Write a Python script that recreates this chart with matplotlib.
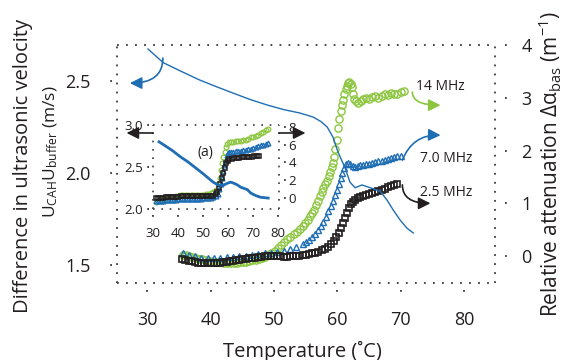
import matplotlib
matplotlib.use("Agg")
import matplotlib.pyplot as plt

plt.rcParams['font.family'] = ['Open Sans', 'DejaVu Sans']
plt.rcParams['mathtext.fontset'] = 'custom'
plt.rcParams['mathtext.rm'] = 'Open Sans'
plt.rcParams['mathtext.it'] = 'Open Sans:italic'

GREEN = '#8cc63f'
BLUE = '#1f6eb4'
BLACK = '#231f20'

# ---- main panel: attenuation (right axis) ----
t_14 = [35.6, 36.1, 36.6, 37.1, 37.6, 38.1, 38.6, 39.1, 39.6, 40.1, 40.6, 41.1, 41.6, 42.1,
        42.6, 43.1, 43.6, 44.1, 44.6, 45.1, 45.6, 46.1, 46.6, 47.1, 47.6, 48.1, 48.6, 49.1,
        49.6, 50.1, 50.6, 51.1, 51.6, 52.1, 52.6, 53.1, 53.6, 54.1, 54.5, 54.9, 55.3, 55.7,
        56.0, 56.3, 56.6, 56.9, 57.2, 57.5, 57.8, 58.1, 58.4, 58.7, 58.9, 59.1, 59.3, 59.5,
        59.7, 59.9, 60.1, 60.3, 60.5, 60.7, 60.9, 61.1, 61.3, 61.5, 61.7, 61.9, 62.1, 62.3,
        62.5, 62.7, 63.0, 63.3, 63.7, 64.1, 64.5, 65.0, 65.5, 66.0, 66.5, 67.0, 67.5, 68.0,
        68.5, 69.0, 69.5, 70.0, 70.5]
a_14 = [0.03, 0.02, 0.00, -0.02, -0.03, -0.05, -0.06, -0.07, -0.09, -0.10, -0.11, -0.12, -0.12, -0.13,
        -0.13, -0.14, -0.13, -0.13, -0.12, -0.12, -0.11, -0.10, -0.08, -0.07, -0.05, -0.03, -0.01, 0.02,
        0.06, 0.10, 0.15, 0.21, 0.27, 0.32, 0.37, 0.41, 0.46, 0.52, 0.57, 0.63, 0.69, 0.76,
        0.82, 0.88, 0.96, 1.05, 1.14, 1.22, 1.29, 1.36, 1.43, 1.52, 1.60, 1.68, 1.77, 1.88,
        2.02, 2.20, 2.42, 2.60, 2.74, 2.86, 2.96, 3.07, 3.16, 3.23, 3.28, 3.29, 3.27, 3.20,
        3.08, 2.98, 2.93, 2.91, 2.93, 2.97, 3.00, 2.98, 3.01, 3.03, 3.00, 3.04, 3.07, 3.05,
        3.09, 3.07, 3.08, 3.10, 3.12]

t_7 = [35.6, 36.5, 37.5, 38.5, 39.5, 40.5, 41.5, 42.5, 43.5, 44.5, 45.5, 46.5, 47.5, 48.5,
       49.5, 50.5, 51.5, 52.5, 53.5, 54.5, 55.0, 55.5, 56.0, 56.5, 57.0, 57.4, 57.8, 58.2,
       58.6, 59.0, 59.3, 59.6, 59.9, 60.2, 60.5, 60.8, 61.1, 61.4, 61.7, 62.0, 62.4, 62.8,
       63.2, 63.6, 64.0, 64.5, 65.0, 65.5, 66.0, 66.5, 67.0, 67.5, 68.0, 68.5, 69.0, 69.5, 70.0]
a_7 = [0.05, 0.02, 0.00, -0.03, -0.04, -0.04, -0.03, -0.02, -0.01, 0.00, 0.01, 0.03, 0.04, 0.05,
       0.06, 0.08, 0.10, 0.13, 0.17, 0.22, 0.26, 0.30, 0.36, 0.42, 0.50, 0.57, 0.65, 0.75,
       0.85, 0.95, 1.05, 1.15, 1.26, 1.37, 1.48, 1.58, 1.67, 1.74, 1.77, 1.74, 1.70, 1.69,
       1.70, 1.72, 1.73, 1.74, 1.75, 1.77, 1.79, 1.80, 1.81, 1.83, 1.84, 1.86, 1.87, 1.89, 1.90]

t_25 = [35.5, 36.0, 36.5, 37.0, 37.5, 38.0, 38.5, 39.0, 39.5, 40.0, 40.5, 41.0, 41.5, 42.0,
        42.5, 43.0, 43.5, 44.0, 44.5, 45.0, 45.5, 46.0, 46.5, 47.0, 47.5, 48.0, 48.5, 49.0,
        49.5, 50.0, 50.5, 51.0, 51.5, 52.0, 52.5, 53.0, 53.5, 54.0, 54.5, 55.0, 55.5, 56.0,
        56.5, 57.0, 57.5, 58.0, 58.5, 59.0, 59.4, 59.8, 60.2, 60.6, 60.9, 61.2, 61.5, 61.8,
        62.1, 62.4, 62.8, 63.2, 63.6, 64.0, 64.5, 65.0, 65.5, 66.0, 66.5, 67.0, 67.5, 68.0,
        68.5, 69.0, 69.4]
a_25 = [-0.05, -0.07, -0.09, -0.10, -0.12, -0.13, -0.13, -0.14, -0.14, -0.14, -0.14, -0.13, -0.13, -0.12,
        -0.11, -0.10, -0.09, -0.08, -0.07, -0.06, -0.05, -0.04, -0.03, -0.03, -0.02, -0.01, 0.00, 0.00,
        0.01, 0.01, 0.00, 0.00, -0.01, -0.01, 0.00, 0.00, 0.01, 0.01, 0.02, 0.03, 0.04, 0.05,
        0.06, 0.08, 0.11, 0.14, 0.18, 0.23, 0.29, 0.36, 0.44, 0.53, 0.62, 0.72, 0.82, 0.91,
        0.98, 1.03, 1.07, 1.10, 1.12, 1.14, 1.16, 1.18, 1.20, 1.22, 1.24, 1.26, 1.28, 1.30,
        1.32, 1.35, 1.37]

# ---- main panel: velocity difference (left axis) ----
t_vel = [30.1, 32.5, 35.5, 38.3, 41.0, 43.5, 46.2, 48.9, 51.5, 54.1, 56.2, 57.4, 58.4, 59.3,
         60.1, 61.2, 62.0, 62.8, 63.9, 65.2, 66.8, 67.9, 68.8, 69.9, 71.0, 72.0]
v_vel = [2.674, 2.600, 2.550, 2.505, 2.468, 2.435, 2.400, 2.370, 2.345, 2.326, 2.304, 2.280, 2.250, 2.196,
         2.114, 2.030, 1.950, 1.920, 1.935, 1.920, 1.900, 1.850, 1.800, 1.745, 1.700, 1.674]

# ---- inset (a) ----
ti_14 = [31, 32, 33, 34, 35, 36, 37, 38, 39, 40, 41, 42, 43, 44, 45, 46, 47, 48, 49, 50, 51, 52,
         53, 54, 55, 56, 56.6, 57.1, 57.6, 58.1, 58.6, 59.1, 59.7, 60.4, 61.2, 62, 63, 64, 65,
         66, 67, 68, 69, 70, 71, 72, 73, 74, 75, 76]
ai_14 = [-0.4, -0.3, -0.2, -0.1, 0.0, 0.05, 0.1, 0.15, 0.2, 0.25, 0.3, 0.35, 0.35, 0.35, 0.3, 0.3,
         0.3, 0.3, 0.3, 0.35, 0.4, 0.5, 0.6, 0.7, 0.9, 1.6, 2.3, 3.1, 3.9, 4.6, 5.2, 5.7, 6.1,
         6.25, 6.3, 6.3, 6.35, 6.4, 6.45, 6.5, 6.55, 6.65, 6.8, 6.9, 7.0, 7.1, 7.25, 7.4, 7.6, 7.75]

ti_7 = [31, 32, 33, 34, 35, 36, 37, 38, 39, 40, 41, 42, 43, 44, 45, 46, 47, 48, 49, 50, 51, 52,
        53, 54, 55, 56, 56.5, 57, 57.5, 58, 58.5, 59, 59.5, 60, 60.5, 61, 62, 63, 64, 65, 66,
        67, 68, 69, 70, 71, 72, 73, 74, 75, 76]
ai_7 = [-0.3, -0.3, -0.3, -0.3, -0.25, -0.25, -0.2, -0.2, -0.2, -0.15, -0.15, -0.15, -0.1, -0.1,
        -0.1, -0.1, -0.1, -0.1, -0.1, -0.05, -0.05, 0.0, 0.0, 0.1, 0.2, 0.5, 1.0, 1.6, 2.3, 3.0,
        3.7, 4.3, 4.8, 5.1, 5.2, 5.2, 5.2, 5.25, 5.3, 5.3, 5.35, 5.4, 5.45, 5.5, 5.6, 5.7, 5.8,
        5.9, 6.0, 6.1, 6.2]

ti_25 = [31, 32, 33, 34, 35, 36, 37, 38, 39, 40, 41, 42, 43, 44, 45, 46, 47, 48, 49, 50, 51, 52,
         53, 54, 55, 55.6, 56.2, 56.8, 57.4, 58, 58.6, 59.2, 59.8, 60.5, 61.5, 62.5, 63.5, 64.5,
         65.5, 66.5, 67.5, 68.5, 69.5, 70.5, 71.5, 72.5]
ai_25 = [0.0, 0.0, 0.05, 0.05, 0.1, 0.1, 0.1, 0.15, 0.15, 0.15, 0.2, 0.2, 0.2, 0.2, 0.2, 0.2,
         0.2, 0.2, 0.2, 0.2, 0.2, 0.2, 0.2, 0.25, 0.4, 0.7, 1.1, 1.6, 2.2, 2.8, 3.4, 3.9, 4.2,
         4.35, 4.4, 4.45, 4.5, 4.5, 4.55, 4.6, 4.6, 4.65, 4.65, 4.7, 4.7, 4.75]

ti_vel = [32.4, 35, 38, 41, 44, 47, 50, 52, 54, 55.8, 57, 58.5, 60, 61, 62, 63.5, 65, 67.7,
          69, 71, 72.9, 76]
vi_vel = [2.80, 2.75, 2.69, 2.62, 2.56, 2.49, 2.42, 2.37, 2.32, 2.29, 2.28, 2.29, 2.31, 2.32,
          2.31, 2.29, 2.26, 2.23, 2.19, 2.16, 2.14, 2.13]

x_ticks = [30, 40, 50, 60, 70, 80]
vel_ticks = [1.5, 2.0, 2.5]
att_ticks = [0, 1, 2, 3, 4]
xi_ticks = [30, 40, 50, 60, 70, 80]
veli_ticks = [2.0, 2.5, 3.0]
atti_ticks = [0, 2, 4, 6, 8]

DOTS = (0, (1, 4))
FRAME = '#3a3a3a'


def dotted_frame(a, lw=1.3):
    for s in a.spines.values():
        s.set_linestyle(DOTS)
        s.set_linewidth(lw)
        s.set_color(FRAME)
        s.set_capstyle('butt')


def dotted_ticks(a, ticks, side, lo, hi):
    for t in ticks:
        if side == 'bottom':
            a.plot([t, t], [lo, hi], transform=a.get_xaxis_transform(), ls=DOTS,
                   lw=1.3, color=FRAME, clip_on=False, solid_capstyle='butt')
        else:
            a.plot([lo, hi], [t, t], transform=a.get_yaxis_transform(), ls=DOTS,
                   lw=1.3, color=FRAME, clip_on=False)


fig = plt.figure(figsize=(5.67, 3.6), dpi=100)

ax = fig.add_axes([117 / 567, 1 - 283 / 360, 378 / 567, 238 / 360])
ax2 = ax.twinx()

ax.plot(t_14, a_14, 'o', ms=5.2, mfc='none', mec=GREEN, mew=1.0)
ax.plot(t_7, a_7, '^', ms=5.0, mfc='none', mec=BLUE, mew=1.0)
ax.plot(t_25, a_25, 's', ms=4.6, mfc='none', mec=BLACK, mew=1.2)
ax.set_xlim(25.2, 84.9)
ax.set_ylim(-0.51, 4.0)
ax.yaxis.tick_right()

ax2.plot(t_vel, v_vel, color=BLUE, lw=1.0)
ax2.set_ylim(1.402, 2.696)
ax2.yaxis.tick_left()
for s in ax2.spines.values():
    s.set_visible(False)

dotted_frame(ax)
ax.set_xticks(x_ticks)
ax.set_yticks(att_ticks)
ax2.set_yticks(vel_ticks)
ax2.set_yticklabels([f'{v:.1f}' for v in vel_ticks])
ax.tick_params(axis='x', length=0, pad=20, labelsize=13, colors=BLACK)
ax.tick_params(axis='y', length=0, pad=19, labelsize=13, colors=BLACK)
ax2.tick_params(axis='y', length=0, pad=19, labelsize=13, colors=BLACK)
dotted_ticks(ax, x_ticks, 'bottom', -0.028, -0.062)
dotted_ticks(ax, att_ticks, 'right', 1.026, 1.05)
dotted_ticks(ax2, vel_ticks, 'left', -0.014, -0.038)

# arrows and frequency labels
arr = '-|>,head_length=0.6,head_width=0.3'
ax2.annotate('', xy=(27.23, 2.489), xytext=(32.45, 2.625),
             arrowprops=dict(arrowstyle=arr, color=BLUE, lw=1.2, mutation_scale=12,
                             connectionstyle='angle3,angleA=90,angleB=0', shrinkA=0, shrinkB=0))
ax.annotate('', xy=(76.3, 2.86), xytext=(71.85, 3.11),
            arrowprops=dict(arrowstyle=arr, color=GREEN, lw=1.2, mutation_scale=12,
                            connectionstyle='angle3,angleA=90,angleB=0', shrinkA=0, shrinkB=0))
ax.annotate('', xy=(76.3, 2.29), xytext=(70.27, 1.82),
            arrowprops=dict(arrowstyle=arr, color=BLUE, lw=1.2, mutation_scale=12,
                            connectionstyle='arc3,rad=-0.35', shrinkA=0, shrinkB=0))
ax.annotate('', xy=(74.7, 1.0), xytext=(70.27, 1.35),
            arrowprops=dict(arrowstyle=arr, color=BLACK, lw=1.2, mutation_scale=12,
                            connectionstyle='angle3,angleA=90,angleB=0', shrinkA=0, shrinkB=0))
ax.text(76.3, 3.21, '14 MHz', fontsize=10, color=BLACK, ha='center', va='center')
ax.text(77.2, 1.84, '7.0 MHz', fontsize=10, color=BLACK, ha='center', va='center')
ax.text(77.2, 1.21, '2.5 MHz', fontsize=10, color=BLACK, ha='center', va='center')

# inset
axi = fig.add_axes([153 / 567, 1 - 209 / 360, 126 / 567, 84 / 360])
axi.set_facecolor('white')
axi2 = axi.twinx()
axi.plot(ti_14, ai_14, 'o', ms=3.4, mfc='none', mec=GREEN, mew=0.9)
axi.plot(ti_7, ai_7, '^', ms=3.4, mfc='none', mec=BLUE, mew=1.0)
axi.plot(ti_25, ai_25, 's', ms=3.4, mfc='none', mec=BLACK, mew=1.1)
axi.set_xlim(30.3, 80.3)
axi.set_ylim(-1.24, 8.2)
axi.yaxis.tick_right()
axi2.plot(ti_vel, vi_vel, color=BLUE, lw=2.0)
axi2.set_ylim(2.0, 3.0)
axi2.yaxis.tick_left()
for s in axi2.spines.values():
    s.set_visible(False)
dotted_frame(axi, lw=1.2)
axi.set_xticks(xi_ticks)
axi.set_yticks(atti_ticks)
axi2.set_yticks(veli_ticks)
axi2.set_yticklabels([f'{v:.1f}' for v in veli_ticks])
axi.tick_params(axis='x', length=0, pad=13, labelsize=9.5, colors=BLACK)
axi.tick_params(axis='y', length=0, pad=7, labelsize=9.5, colors=BLACK)
axi2.tick_params(axis='y', length=0, pad=7, labelsize=9.5, colors=BLACK)
dotted_ticks(axi, xi_ticks, 'bottom', -0.07, -0.1)
dotted_ticks(axi, atti_ticks, 'right', 1.04, 1.06)
dotted_ticks(axi2, veli_ticks, 'left', -0.03, -0.05)
fig.text(198 / 567, 1 - 152 / 360, '(a)', fontsize=10, color=BLACK, va='center')
axi.annotate('', xy=(-0.21, 0.905), xytext=(0.0, 0.905), xycoords='axes fraction',
             arrowprops=dict(arrowstyle=arr, color=BLACK, lw=1.2, mutation_scale=12,
                             shrinkA=0, shrinkB=0), annotation_clip=False)
axi.annotate('', xy=(1.21, 0.905), xytext=(1.0, 0.905), xycoords='axes fraction',
             arrowprops=dict(arrowstyle=arr, color=BLACK, lw=1.2, mutation_scale=12,
                             shrinkA=0, shrinkB=0), annotation_clip=False)

# axis titles
fig.text(23 / 567, 1 - 166 / 360, 'Difference in ultrasonic velocity', rotation=90,
         ha='center', va='center', fontsize=14.5, color=BLACK)
fig.text(51 / 567, 1 - 152 / 360, r'U$_{\mathrm{CAH}}$U$_{\mathrm{buffer}}$ (m/s)', rotation=90,
         ha='center', va='center', fontsize=12.5, color=BLACK)
fig.text(550 / 567, 1 - 317 / 360, r'Relative attenuation Δα$_{\mathrm{bas}}$ (m$^{-1}$)',
         rotation=90, ha='center', va='bottom', fontsize=15, color=BLACK)
fig.text(302 / 567, 1 - 351 / 360, 'Temperature (˚C)', ha='center', va='center',
         fontsize=14.5, color=BLACK)

fig.savefig('out.png', dpi=100)
